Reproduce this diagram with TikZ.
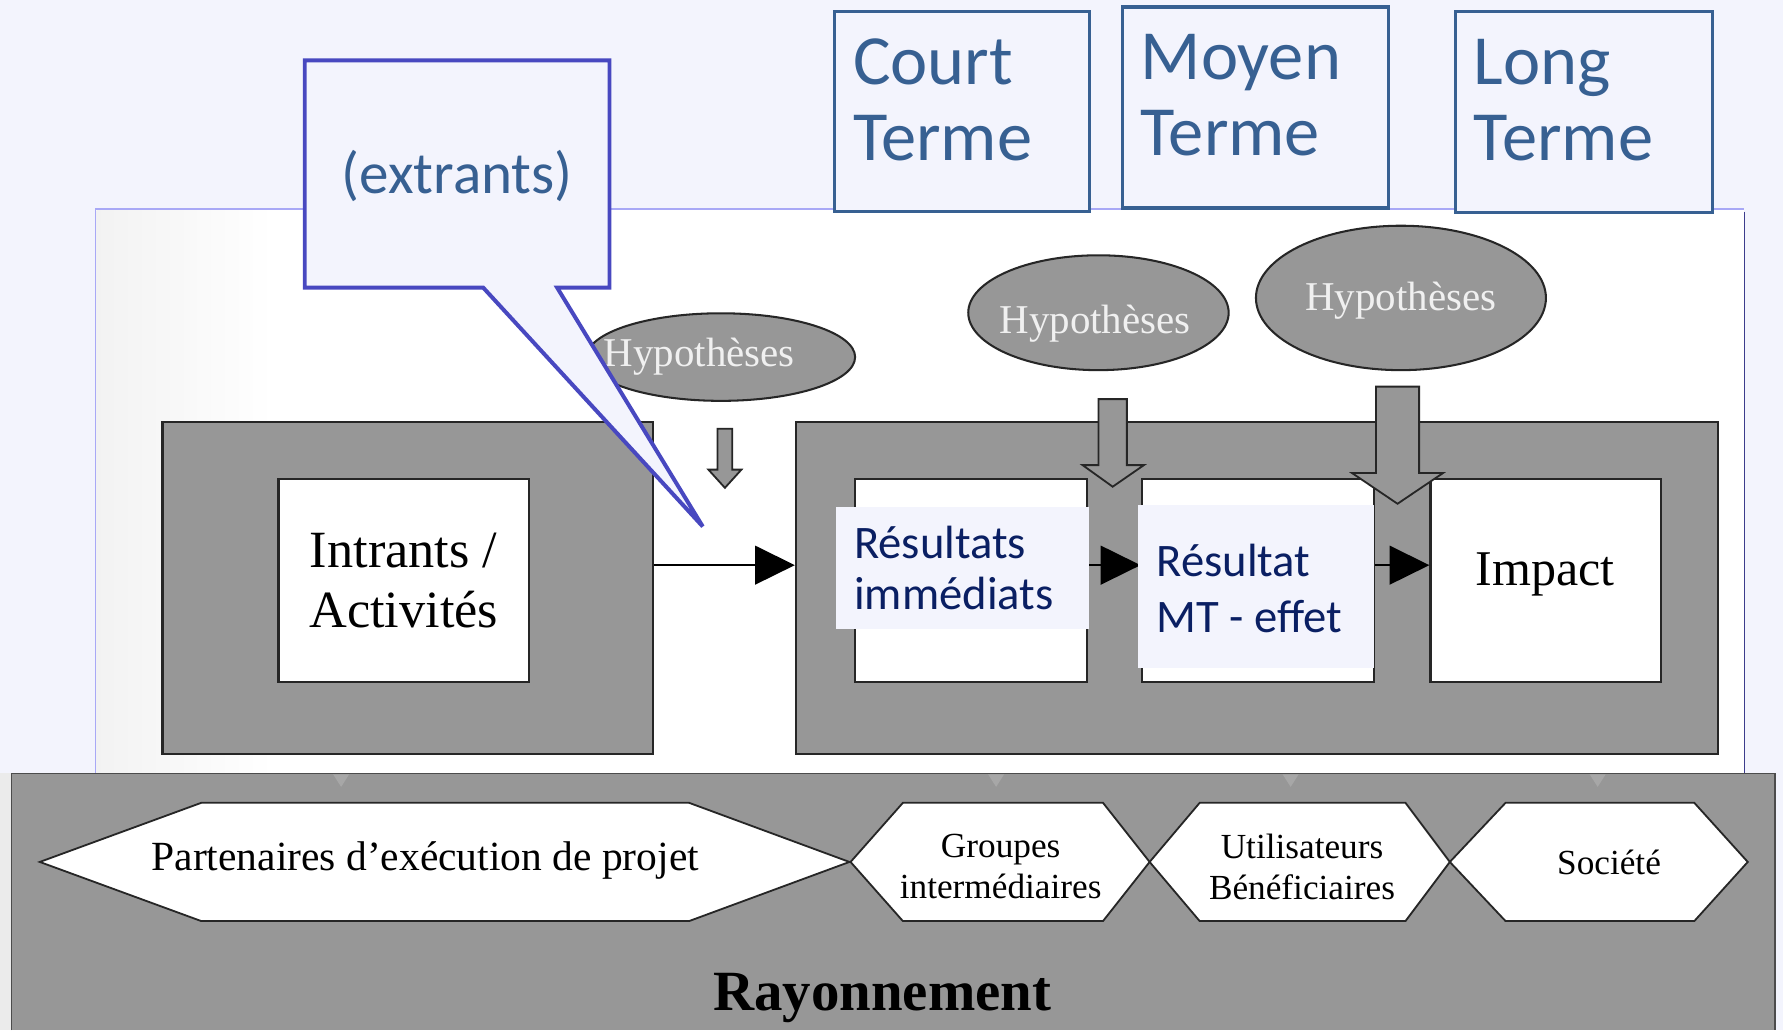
\documentclass[tikz,border=0pt]{standalone}
\usepackage{fontspec}
\setmainfont{Liberation Serif}
\newfontfamily\calib{Carlito}
\usetikzlibrary{shapes.geometric,arrows.meta}

\definecolor{pagebg}{HTML}{F3F4FD}
\definecolor{termblue}{HTML}{376092}
\definecolor{calloutline}{HTML}{4848C0}
\definecolor{frameline}{HTML}{A8A8F6}
\definecolor{frameedge}{HTML}{3C3C8C}
\definecolor{boxgrey}{HTML}{979797}
\definecolor{navytext}{HTML}{0A1F63}
\definecolor{hyptext}{HTML}{F0F0F0}

\tikzset{
  outerbox/.style={draw=black!85, line width=2pt, fill=boxgrey, inner sep=0pt},
  innerbox/.style={draw=black!85, line width=2pt, fill=white, inner sep=0pt},
  hypo/.style={ellipse, draw=black!85, line width=1.8pt, fill=boxgrey, inner sep=0pt},
  hypolabel/.style={text=hyptext, font=\fontsize{36}{40}\selectfont, inner sep=0pt},
  termbox/.style={draw=termblue, line width=3pt, fill=pagebg, inner sep=0pt},
  termtext/.style={text=termblue, font=\calib\fontsize{62}{67}\selectfont, inner sep=0pt, anchor=base west},
  overlay/.style={fill=pagebg, inner sep=0pt},
  restext/.style={text=navytext, font=\calib\fontsize{41}{45}\selectfont, inner sep=0pt, anchor=base west},
  hexa/.style={draw=black!85, line width=1.6pt, fill=white},
  hextext/.style={font=\fontsize{31}{36}\selectfont, inner sep=0pt, align=center},
  blockarrow/.style={draw=black!85, line width=1.6pt, fill=boxgrey},
  flowarrow/.style={draw=black, line width=2pt, -{Triangle[length=35pt,width=34pt]}},
  notch/.style={fill=boxgrey!85!white}
}

\begin{document}
\begin{tikzpicture}[x=1pt,y=-1pt]
  % page
  \fill[pagebg] (0,0) rectangle (1568,906);
  \useasboundingbox (0,0) rectangle (1568,906);

  % white frame of the logic model
  \fill[white] (84,184) rectangle (1534,680);
  \shade[left color=black!5, right color=white] (85,185) rectangle (240,680);
  \draw[frameline, line width=1.5pt] (84,680) -- (84,184) -- (1534,184);
  \draw[frameedge, line width=1.5pt] (1534,186) -- (1534,680);

  % outreach band
  \fill[black!8] (0,680) rectangle (10,906);
  \fill[boxgrey] (10,680) rectangle (1561,906);
  \draw[black!70, line width=1.2pt] (10,906) -- (10,680) -- (1561,680) -- (1561,906);
  \foreach \nx in {300,876,1135,1405}
    \fill[notch] (\nx-7,681) -- (\nx+7,681) -- (\nx,692) -- cycle;

  % outreach hexagons
  \draw[hexa] (35,758) -- (177,706) -- (606,706) -- (747,758) -- (606,810) -- (177,810) -- cycle;
  \draw[hexa] (748,758) -- (794,706) -- (970,706) -- (1011,758) -- (970,810) -- (794,810) -- cycle;
  \draw[hexa] (1011,758) -- (1055,706) -- (1236,706) -- (1275,758) -- (1236,810) -- (1055,810) -- cycle;
  \draw[hexa] (1275,758) -- (1324,706) -- (1490,706) -- (1537,758) -- (1490,810) -- (1324,810) -- cycle;
  \node[hextext, font=\fontsize{36.5}{40}\selectfont] (partenaires) at (374,757) {Partenaires d’exécution de projet};
  \node[hextext] (groupes) at (880,762) {Groupes\\intermédiaires};
  \node[hextext] (utilisateurs) at (1145,762) {Utilisateurs\\Bénéficiaires};
  \node[hextext] (societe) at (1415,758) {Société};
  \node[font=\bfseries\fontsize{50}{56}\selectfont, inner sep=0pt, anchor=base] (rayonnement) at (776,889) {Rayonnement};

  % main boxes
  \node[outerbox, minimum width=431pt, minimum height=292pt] (leftbox) at (358.5,517) {};
  \node[outerbox, minimum width=811pt, minimum height=292pt] (rightbox) at (1105.5,517) {};
  \node[innerbox, minimum width=220pt, minimum height=179pt, align=center,
        font=\fontsize{46}{53}\selectfont] (intrants) at (355,510.5) {Intrants /\\Activités};
  \node[innerbox, minimum width=204pt, minimum height=179pt] (resA) at (854,510.5) {};
  \node[innerbox, minimum width=204pt, minimum height=179pt] (resB) at (1106,510.5) {};
  \node[innerbox, minimum width=203pt, minimum height=179pt] (impact) at (1359.5,510.5) {};
  \node[font=\fontsize{44}{50}\selectfont, inner sep=0pt, anchor=base] (impacttext) at (1359,515) {Impact};

  % flow connectors
  \coordinate (flow) at (0,497);
  \draw[flowarrow] (leftbox.east |- flow) -- (rightbox.west |- flow);
  \draw[flowarrow] (resA.east |- flow) -- (resB.west |- flow);
  \draw[flowarrow] (resB.east |- flow) -- (impact.west |- flow);

  % result labels
  \node[overlay, minimum width=223pt, minimum height=107pt] (ovA) at (846.5,499.5) {};
  \node[overlay, minimum width=207pt, minimum height=143pt] (ovB) at (1104.5,515.5) {};
  \node[restext] (resAl1) at (751,491) {Résultats};
  \node[restext] (resAl2) at (751,536) {immédiats};
  \node[restext] (resBl1) at (1017,507) {Résultat};
  \node[restext] (resBl2) at (1017,556) {MT - effet};

  % hypotheses and their block arrows
  \node[hypo, minimum width=236pt, minimum height=77pt] (hyp1) at (634,314) {};
  \node[hypo, minimum width=229pt, minimum height=101pt] (hyp2) at (966,275) {};
  \node[hypo, minimum width=255pt, minimum height=127pt] (hyp3) at (1232,262) {};
  \node[hypolabel] (hyp1t) at (615,314) {Hypothèses};
  \node[hypolabel] (hyp2t) at (963,285) {Hypothèses};
  \node[hypolabel] (hyp3t) at (1232,264) {Hypothèses};

  \draw[blockarrow] (631,377) -- (644,377) -- (644,413) -- (652,413) -- (637.5,429)
        -- (623,413) -- (631,413) -- cycle;
  \draw[blockarrow] (966,351) -- (991,351) -- (991,409) -- (1006,409) -- (978.5,428)
        -- (952,409) -- (966,409) -- cycle;
  \draw[blockarrow] (1210,340) -- (1248,340) -- (1248,416) -- (1269,416) -- (1229,443)
        -- (1189,416) -- (1210,416) -- cycle;

  % time horizon boxes
  \node[termbox, minimum width=224pt, minimum height=176pt] (court) at (846,98) {};
  \node[termbox, minimum width=234pt, minimum height=177pt] (moyen) at (1104,94.5) {};
  \node[termbox, minimum width=226pt, minimum height=177pt] (long) at (1393,98.5) {};
  \node[termtext] (courtl1) at (750,74) {Court};
  \node[termtext] (courtl2) at (750,141) {Terme};
  \node[termtext] (moyenl1) at (1003,70) {Moyen};
  \node[termtext] (moyenl2) at (1003,137) {Terme};
  \node[termtext] (longl1) at (1296,74) {Long};
  \node[termtext] (longl2) at (1296,141) {Terme};

  % callout for outputs
  \coordinate (calloutTip) at (618,463);
  \draw[calloutline, line width=3.5pt, fill=pagebg, line join=miter]
    (268,53) -- (536,53) -- (536,253) -- (490,253) -- (calloutTip) -- (425,253)
    -- (268,253) -- cycle;
  \node[text=termblue, font=\calib\fontsize{52}{58}\selectfont, inner sep=0pt] (extrants) at (402,155) {(extrants)};
\end{tikzpicture}
\end{document}
